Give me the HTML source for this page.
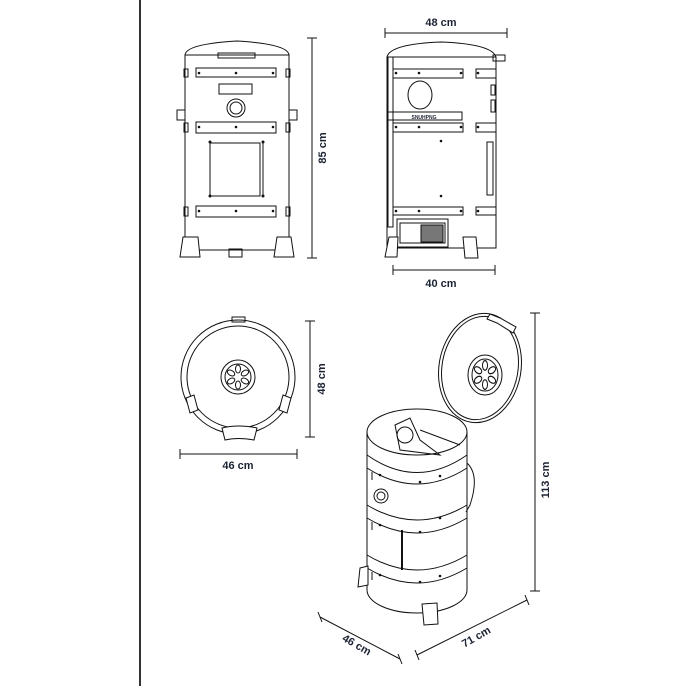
<!DOCTYPE html>
<html><head><meta charset="utf-8"><style>
html,body{margin:0;padding:0;background:#fff;}
svg{display:block;}
text{font-family:"Liberation Sans",sans-serif;font-weight:bold;font-size:11px;fill:#1c2333;}
</style></head><body>
<svg width="686" height="686" viewBox="0 0 686 686" xmlns="http://www.w3.org/2000/svg">
<defs><g id="pet"><ellipse cx="0" cy="-8" rx="2.5" ry="4"/><ellipse cx="0" cy="-8" rx="2.5" ry="4" transform="rotate(60)"/><ellipse cx="0" cy="-8" rx="2.5" ry="4" transform="rotate(120)"/><ellipse cx="0" cy="-8" rx="2.5" ry="4" transform="rotate(180)"/><ellipse cx="0" cy="-8" rx="2.5" ry="4" transform="rotate(240)"/><ellipse cx="0" cy="-8" rx="2.5" ry="4" transform="rotate(300)"/></g></defs>
<rect x="139" y="0" width="2" height="686" fill="#333"/>
<g fill="none" stroke="#111" stroke-width="1">
<!-- FRONT VIEW -->
<path d="M185,55 Q186,44 237,41 Q288,44 289,55 Z" fill="#fff"/>
<rect x="218" y="53" width="37" height="5"/>
<rect x="185" y="55" width="104" height="195"/>
<rect x="196" y="68" width="80" height="9"/>
<rect x="184" y="69" width="4" height="8"/><rect x="286" y="69" width="4" height="8"/>
<rect x="219" y="84" width="33" height="10"/>
<circle cx="236" cy="108" r="9"/><circle cx="236" cy="108" r="6"/>
<rect x="177" y="110" width="8" height="10"/><rect x="289" y="110" width="8" height="10"/>
<rect x="196" y="122" width="80" height="11"/>
<rect x="184" y="123" width="4" height="9"/><rect x="286" y="123" width="4" height="9"/>
<rect x="210" y="143" width="50" height="53"/><line x1="263" y1="143" x2="263" y2="196"/>
<rect x="196" y="206" width="80" height="11"/>
<rect x="184" y="207" width="4" height="9"/><rect x="286" y="207" width="4" height="9"/>
<path d="M183,237 L198,237 L200,257 L180,257 Z" fill="#fff"/>
<path d="M277,237 L291,237 L294,257 L274,257 Z" fill="#fff"/>
<rect x="229" y="249" width="13" height="8"/>
<line x1="312" y1="38" x2="312" y2="258"/><line x1="307" y1="38" x2="317" y2="38"/><line x1="307" y1="258" x2="317" y2="258"/>
<!-- SIDE VIEW -->
<path d="M387,57 Q390,44 441,42 Q492,44 496,57 Z" fill="#fff"/>
<rect x="387" y="57" width="109" height="191"/>
<rect x="388" y="57" width="5" height="170"/>
<rect x="493" y="55" width="12" height="6"/>
<rect x="393" y="69" width="70" height="9"/><rect x="476" y="69" width="20" height="9"/>
<ellipse cx="420" cy="95" rx="12" ry="14"/>
<rect x="387" y="112" width="75" height="8"/>
<rect x="393" y="123" width="70" height="9"/><rect x="476" y="123" width="20" height="9"/>
<rect x="491" y="85" width="4" height="10"/><rect x="491" y="100" width="4" height="12"/>
<rect x="487" y="142" width="6" height="53"/>
<rect x="393" y="207" width="70" height="8"/><rect x="476" y="207" width="20" height="8"/>
<rect x="397" y="219" width="51" height="28"/><rect x="400" y="223" width="45" height="20"/>
<rect x="421" y="225" width="22" height="17" fill="#777"/>
<path d="M389,237 L398,237 L397,257 L385,257 Z" fill="#fff"/>
<path d="M463,237 L476,237 L478,258 L465,258 Z" fill="#fff"/>
<line x1="385" y1="33" x2="507" y2="33"/><line x1="385" y1="28" x2="385" y2="38"/><line x1="507" y1="28" x2="507" y2="38"/>
<line x1="393" y1="270" x2="495" y2="270"/><line x1="393" y1="265" x2="393" y2="275"/><line x1="495" y1="265" x2="495" y2="275"/>
<!-- TOP VIEW -->
<rect x="232" y="317" width="13" height="5"/>
<circle cx="238" cy="377" r="57"/><circle cx="238" cy="377" r="51"/>
<circle cx="238" cy="377" r="17"/><circle cx="238" cy="377" r="13"/>
<use href="#pet" transform="translate(238,377)"/>
<path d="M222,428 Q238,424 257,428 L254,440 Q238,437 225,440 Z" fill="#fff"/>
<path d="M186,398 L194,395 L198,410 L190,413 Z" fill="#fff"/>
<path d="M283,395 L291,398 L287,413 L279,410 Z" fill="#fff"/>
<line x1="310" y1="321" x2="310" y2="437"/><line x1="305" y1="321" x2="315" y2="321"/><line x1="305" y1="437" x2="315" y2="437"/>
<line x1="180" y1="454" x2="297" y2="454"/><line x1="180" y1="449" x2="180" y2="459"/><line x1="297" y1="449" x2="297" y2="459"/>
<!-- ISO VIEW -->
<path d="M367,432 L367,590 A50,23 0 0 0 467,590 L467,432" fill="#fff"/>
<ellipse cx="417" cy="432" rx="50" ry="23" fill="#fff"/>
<path d="M367,455 Q417,490 467,455 M367,468 Q417,500 467,468"/>
<path d="M367,505 Q417,535 467,505 M367,518 Q417,548 467,518"/>
<path d="M367,555 Q417,585 467,555 M367,568 Q417,598 467,568"/>
<path d="M372,472 L372,480 M372,522 L372,530 M372,572 L372,580"/>
<circle cx="381" cy="496" r="7"/><circle cx="381" cy="496" r="4"/>
<line x1="402" y1="530" x2="402" y2="570" stroke-width="2"/>
<path d="M467,463 Q480,475 470,505 L466,512"/>
<path d="M395,425 L410,418 L420,440 L440,455 L400,450 Z"/>
<circle cx="405" cy="435" r="8"/>
<line x1="420" y1="430" x2="460" y2="445"/>
<path d="M360,568 L368,566 L368,585 L358,587 Z" fill="#fff"/>
<path d="M422,604 L437,603 L438,624 L424,625 Z" fill="#fff"/>
<ellipse cx="480" cy="368" rx="41" ry="55" transform="rotate(10 480 368)" fill="#fff"/>
<ellipse cx="480" cy="368" rx="38" ry="52" transform="rotate(10 480 368)"/>
<ellipse cx="485" cy="375" rx="17" ry="20"/><ellipse cx="485" cy="375" rx="13" ry="16"/>
<use href="#pet" transform="translate(485,375) scale(1,1.2)"/>
<path d="M490,314 L500,318 L516,327 L513,333 L497,323 L487,319 Z" fill="#fff"/>
<line x1="535" y1="313" x2="535" y2="591"/><line x1="530" y1="313" x2="540" y2="313"/><line x1="530" y1="591" x2="540" y2="591"/>
<line x1="320" y1="617" x2="400" y2="659"/><line x1="318" y1="612" x2="322" y2="622"/><line x1="398" y1="654" x2="402" y2="664"/>
<line x1="417" y1="655" x2="527" y2="600"/><line x1="415" y1="650" x2="419" y2="660"/><line x1="525" y1="595" x2="529" y2="605"/>
</g>
<g fill="#111">
<circle cx="199" cy="73" r="1.3"/><circle cx="236" cy="73" r="1.3"/><circle cx="273" cy="73" r="1.3"/>
<circle cx="199" cy="127" r="1.3"/><circle cx="236" cy="127" r="1.3"/><circle cx="273" cy="127" r="1.3"/>
<circle cx="199" cy="211" r="1.3"/><circle cx="236" cy="211" r="1.3"/><circle cx="273" cy="211" r="1.3"/>
<circle cx="210" cy="142" r="1.5"/><circle cx="263" cy="142" r="1.5"/><circle cx="210" cy="196" r="1.5"/><circle cx="263" cy="196" r="1.5"/>
<circle cx="396" cy="73" r="1.3"/><circle cx="419" cy="73" r="1.3"/><circle cx="461" cy="73" r="1.3"/><circle cx="478" cy="73" r="1.3"/>
<circle cx="396" cy="127" r="1.3"/><circle cx="419" cy="127" r="1.3"/><circle cx="461" cy="127" r="1.3"/><circle cx="478" cy="127" r="1.3"/>
<circle cx="396" cy="211" r="1.3"/><circle cx="419" cy="211" r="1.3"/><circle cx="461" cy="211" r="1.3"/><circle cx="478" cy="211" r="1.3"/>
<circle cx="441" cy="141" r="1.3"/><circle cx="441" cy="196" r="1.3"/>
<circle cx="380" cy="475" r="1.3"/><circle cx="420" cy="482" r="1.3"/><circle cx="440" cy="476" r="1.3"/>
<circle cx="380" cy="525" r="1.3"/><circle cx="420" cy="532" r="1.3"/><circle cx="440" cy="518" r="1.3"/>
<circle cx="380" cy="575" r="1.3"/><circle cx="420" cy="582" r="1.3"/><circle cx="440" cy="576" r="1.3"/>
</g>
<text x="441" y="26" text-anchor="middle">48 cm</text>
<text x="441" y="287" text-anchor="middle">40 cm</text>
<text x="238" y="469" text-anchor="middle">46 cm</text>
<text transform="translate(326,148) rotate(-90)" text-anchor="middle">85 cm</text>
<text transform="translate(325,379) rotate(-90)" text-anchor="middle">48 cm</text>
<text transform="translate(549,480) rotate(-90)" text-anchor="middle">113 cm</text>
<text transform="translate(355,648) rotate(30)" text-anchor="middle">46 cm</text>
<text transform="translate(478,640) rotate(-30)" text-anchor="middle">71 cm</text>
<text x="424" y="119" text-anchor="middle" style="font-size:5px">SNUHPNG</text>
</svg>
</body></html>
